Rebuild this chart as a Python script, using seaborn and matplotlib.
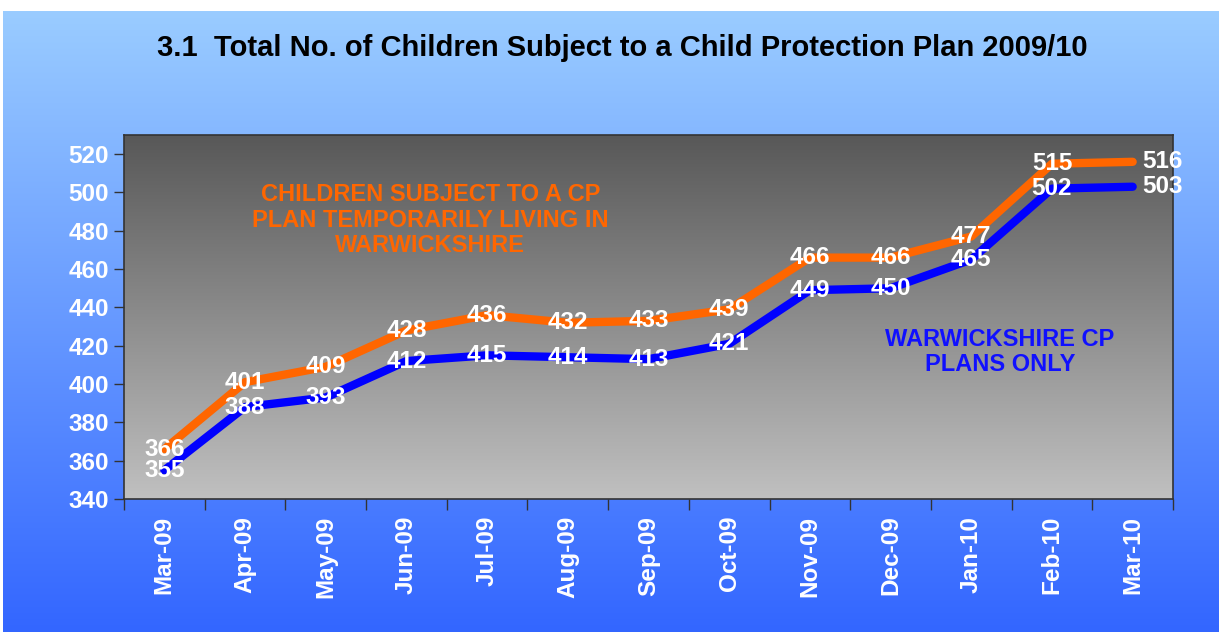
import numpy as np
import pandas as pd
import matplotlib
matplotlib.use("Agg")
import matplotlib.pyplot as plt
import seaborn as sns
from matplotlib.colors import LinearSegmentedColormap

months = ["Mar-09", "Apr-09", "May-09", "Jun-09", "Jul-09", "Aug-09", "Sep-09",
          "Oct-09", "Nov-09", "Dec-09", "Jan-10", "Feb-10", "Mar-10"]
temp_living = [366, 401, 409, 428, 436, 432, 433, 439, 466, 466, 477, 515, 516]
warwick_only = [355, 388, 393, 412, 415, 414, 413, 421, 449, 450, 465, 502, 503]
y_ticks = [340, 360, 380, 400, 420, 440, 460, 480, 500, 520]

title = "3.1  Total No. of Children Subject to a Child Protection Plan 2009/10"
orange_label = "CHILDREN SUBJECT TO A CP\nPLAN TEMPORARILY LIVING IN\nWARWICKSHIRE"
blue_label = "WARWICKSHIRE CP\nPLANS ONLY"

ORANGE = "#FF6600"
BLUE = "#0000FF"

sns.set_style("white")
plt.rcParams["font.family"] = ["Liberation Sans", "DejaVu Sans"]

W, H = 1219, 632
fig = plt.figure(figsize=(W / 100, H / 100), dpi=100, facecolor="white")

# figure background gradient
bg = fig.add_axes([3 / W, 0, 1 - 3 / W, (H - 11) / H], zorder=-10)
bg_cmap = LinearSegmentedColormap.from_list("bg", ["#9ACCFF", "#3366FF"])
bg.imshow(np.linspace(0, 1, 256).reshape(-1, 1), cmap=bg_cmap, aspect="auto",
          extent=[0, 1, 0, 1], origin="upper")
bg.axis("off")

ax = fig.add_axes([124 / W, 1 - 499 / H, (1173 - 124) / W, (499 - 135) / H])
ax.set_facecolor("none")

df = pd.DataFrame({
    "month": months * 2,
    "value": temp_living + warwick_only,
    "series": ["temp"] * len(months) + ["warwick"] * len(months),
})
df["pos"] = list(range(len(months))) * 2

sns.lineplot(data=df, x="pos", y="value", hue="series",
             palette={"temp": ORANGE, "warwick": BLUE},
             linewidth=6, ax=ax, legend=False, zorder=3,
             solid_capstyle="round", solid_joinstyle="round")

ax.set_xlim(-0.5, len(months) - 0.5)
ax.set_ylim(340, 530)

# plot area gradient
pa_cmap = LinearSegmentedColormap.from_list("pa", ["#585858", "#C0C0C0"])
ax.imshow(np.linspace(0, 1, 256).reshape(-1, 1), cmap=pa_cmap, aspect="auto",
          extent=[-0.5, len(months) - 0.5, 340, 530], origin="upper", zorder=0)

# data labels
n = len(months)
for i, (a, b) in enumerate(zip(temp_living, warwick_only)):
    dx = 0.37 if i == n - 1 else 0.0
    ax.text(i + dx, a, str(a), color="white", fontsize=17.5, fontweight="bold",
            ha="center", va="center", zorder=5)
    ax.text(i + dx, b, str(b), color="white", fontsize=17.5, fontweight="bold",
            ha="center", va="center", zorder=5)

ax.set_yticks(y_ticks)
ax.set_yticklabels([str(v) for v in y_ticks], color="white", fontsize=17.5,
                   fontweight="bold")
ax.set_xticks(np.arange(-0.5, n, 1.0))
ax.set_xticklabels([])
ax.set_xticks(np.arange(n), minor=True)
ax.set_xticklabels(months, minor=True, rotation=90, color="white", fontsize=17.5,
                   fontweight="bold")
ax.tick_params(axis="x", which="major", direction="out", length=8, width=1,
               color="#333333", bottom=True)
ax.tick_params(axis="x", which="minor", length=0, pad=12, bottom=True)
ax.tick_params(axis="y", direction="out", length=7, width=1, color="#333333",
               left=True, pad=4)
ax.set_xlabel("")
ax.set_ylabel("")
for s in ax.spines.values():
    s.set_visible(True)
    s.set_color("#333333")
    s.set_linewidth(1.2)

ax.text(0.292, 0.766, orange_label, transform=ax.transAxes, color=ORANGE,
        fontsize=17, fontweight="bold", ha="center", va="center",
        linespacing=1.15, zorder=4)
ax.text(0.835, 0.404, blue_label, transform=ax.transAxes, color="#1010FF",
        fontsize=17, fontweight="bold", ha="center", va="center",
        linespacing=1.15, zorder=4)

fig.text(622 / W, 1 - 48 / H, title, color="black", fontsize=21,
         fontweight="bold", ha="center", va="center")

fig.savefig("out.png", dpi=100, facecolor="white")
